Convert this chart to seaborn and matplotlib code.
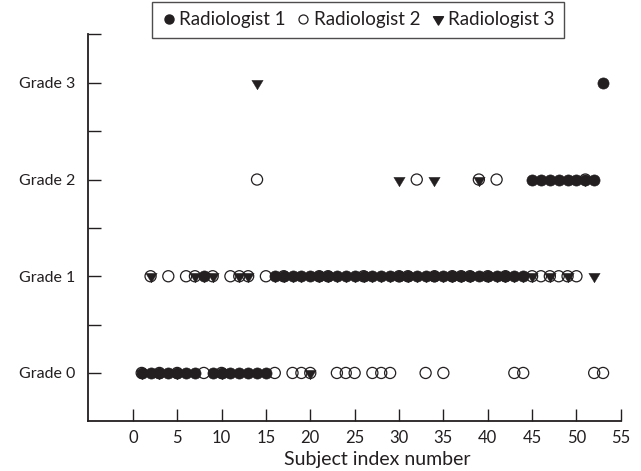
import numpy as np
import pandas as pd
import seaborn as sns
import matplotlib.pyplot as plt
from matplotlib.lines import Line2D
from matplotlib.path import Path
from matplotlib.ticker import FixedLocator

nan = np.nan

# Grades given by each radiologist to subjects 1..53 (nan = no mark seen)
subjects = list(range(1, 54))
rad1 = [0, 0, 0, 0, 0, 0, 0, 1, 0, 0,
        0, 0, 0, 0, 0, 1, 1, 1, 1, 1,
        1, 1, 1, 1, 1, 1, 1, 1, 1, 1,
        1, 1, 1, 1, 1, 1, 1, 1, 1, 1,
        1, 1, 1, 1, 2, 2, 2, 2, 2, 2,
        2, 2, 3]
rad2 = [0, 1, 0, 1, 0, 1, 1, 0, 1, 0,
        1, 1, 1, 2, 1, 0, 1, 0, 0, 0,
        1, 1, 0, 0, 0, 1, 0, 0, 0, 1,
        1, 2, 0, 1, 0, 1, 1, 1, 2, 1,
        2, 1, 0, 0, 1, 1, 1, 1, 1, 1,
        2, 0, 0]
rad3 = [0, 1, 0, nan, 0, nan, 1, 1, 1, 0,
        nan, 1, 1, 3, nan, 1, 1, 1, 1, 0,
        1, 1, 1, 1, 1, 1, 1, 1, 1, 2,
        1, 1, 1, 2, 1, 1, 1, 1, 2, 1,
        1, 1, 1, 1, 1, nan, 1, nan, 1, nan,
        2, 1, nan]

grade_labels = ["Grade 0", "Grade 1", "Grade 2", "Grade 3"]
x_ticks = list(range(0, 56, 5))

df = pd.DataFrame({"subject": subjects,
                   "Radiologist 1": rad1,
                   "Radiologist 2": rad2,
                   "Radiologist 3": rad3})

sns.set_style("ticks")
plt.rcParams['font.family'] = ['Lato', 'DejaVu Sans']
ink = '#231f20'

# downward triangle centred on its centroid (like the original software)
tri = Path([(-0.9, 0.5), (0.9, 0.5), (0, -1), (-0.9, 0.5)],
           [Path.MOVETO, Path.LINETO, Path.LINETO, Path.CLOSEPOLY])

fig = plt.figure(figsize=(6.41, 4.71), dpi=100)
ax = fig.add_axes([0.138, 0.1055, 0.8305, 0.8213])

sns.scatterplot(data=df, x="subject", y="Radiologist 1", marker='o', s=64,
                color=ink, edgecolor=ink, linewidth=0.5, ax=ax, legend=False, zorder=3)
sns.scatterplot(data=df, x="subject", y="Radiologist 2", marker='o', s=64,
                facecolor='none', edgecolor=ink, linewidth=0.9, ax=ax, legend=False, zorder=4)
sns.scatterplot(data=df, x="subject", y="Radiologist 3", marker=tri, s=82,
                color=ink, edgecolor=ink, linewidth=0.3, ax=ax, legend=False, zorder=5)

ax.set_xlim(-5, 55)
ax.set_ylim(-0.5, 3.5)
ax.set_xticks(x_ticks)
ax.set_yticks([0, 1, 2, 3], grade_labels)
ax.yaxis.set_minor_locator(FixedLocator([0.5, 1.5, 2.5, 3.5]))
ax.tick_params(axis='both', which='both', direction='in', length=9, width=1,
               colors=ink)
ax.tick_params(axis='x', pad=6, labelsize=12)
ax.tick_params(axis='y', pad=9.5, labelsize=11.5)
sns.despine(ax=ax)
for side in ["left", "bottom"]:
    ax.spines[side].set_color(ink)
    ax.spines[side].set_linewidth(1.3)

ax.set_ylabel("")
ax.set_xlabel("Subject index number", fontsize=14, color=ink)
ax.xaxis.set_label_coords((27.5 + 5) / 60, -0.078)

handles = [Line2D([], [], marker='o', ls='', color=ink, markersize=6.5),
           Line2D([], [], marker='o', ls='', mfc='none', mec=ink, mew=0.9, markersize=6.5),
           Line2D([], [], marker=tri, ls='', color=ink, markersize=8)]
leg = fig.legend(handles, ["Radiologist 1", "Radiologist 2", "Radiologist 3"],
                 loc='upper center', bbox_to_anchor=(358 / 641, 1 - 2 / 471),
                 ncol=3, frameon=True, fancybox=False, edgecolor=ink,
                 handletextpad=0.15, columnspacing=0.55, handlelength=0.8,
                 borderpad=0.5, borderaxespad=0, fontsize=13.5)
leg.get_frame().set_linewidth(1)
for t in leg.get_texts():
    t.set_color(ink)

fig.savefig("out.png", dpi=100)
